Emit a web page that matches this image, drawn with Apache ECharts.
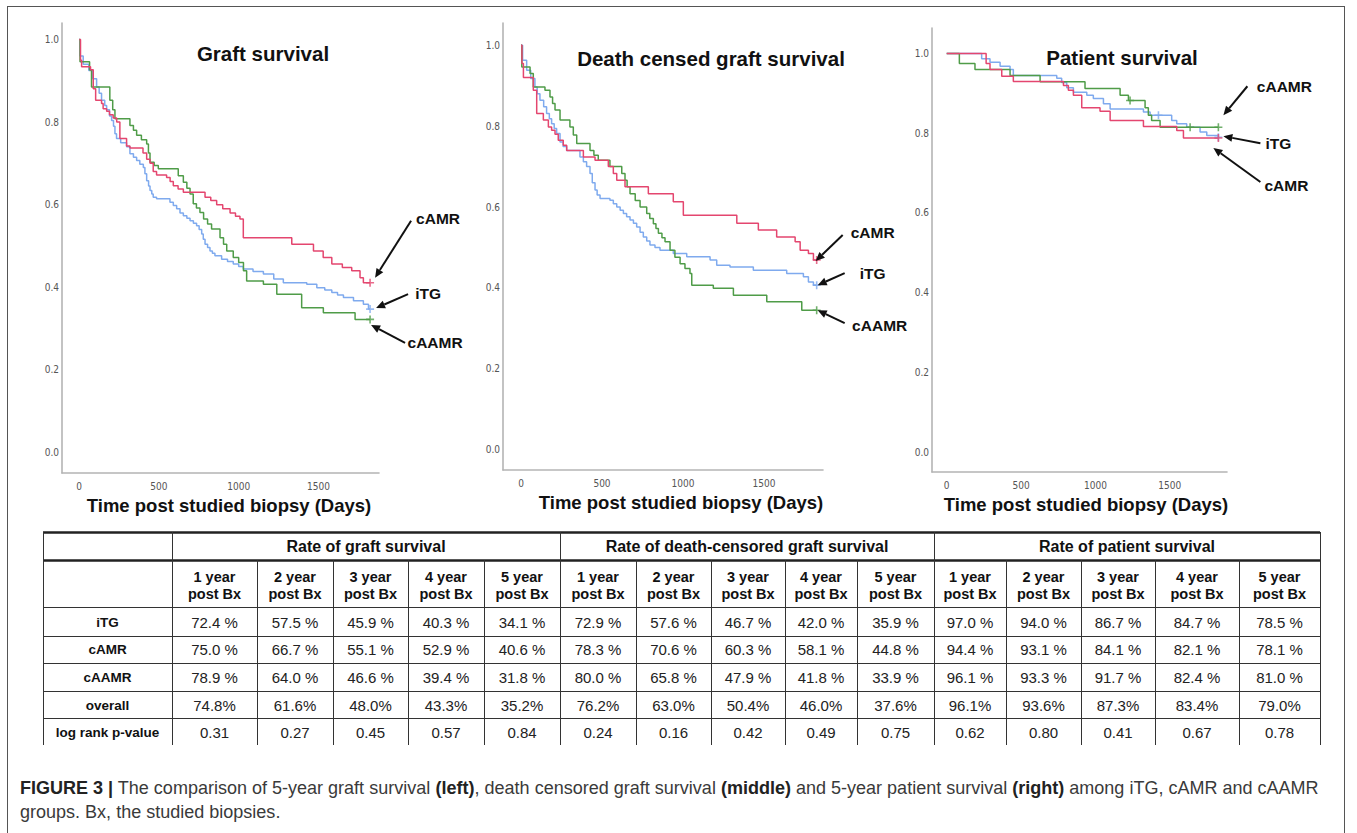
<!DOCTYPE html>
<html>
<head>
<meta charset="utf-8">
<script src="https://cdn.jsdelivr.net/npm/echarts@6.0.0/dist/echarts.min.js"></script>
<style>
html,body{margin:0;padding:0;background:#ffffff;}
#c{width:1357px;height:833px;}
</style>
</head>
<body>
<div id="c"></div>
<script>
// ---------------- DATA ----------------
// Kaplan–Meier steps: [day, survival]
const graftITG = [[0,1],[5,0.96],[25,0.94],[60,0.925],[85,0.905],[109,0.885],[125,0.87],[140,0.853],[160,0.84],[172,0.83],[190,0.815],[203,0.804],[215,0.79],[224,0.772],[234,0.76],[260,0.75],[297,0.74],[318,0.723],[340,0.715],[360,0.707],[380,0.698],[402,0.69],[412,0.675],[423,0.658],[435,0.645],[444,0.634],[455,0.626],[464,0.618],[485,0.614],[569,0.606],[590,0.598],[611,0.59],[632,0.58],[653,0.573],[675,0.567],[695,0.561],[716,0.555],[736,0.549],[752,0.54],[768,0.529],[778,0.516],[789,0.504],[805,0.496],[820,0.488],[835,0.482],[851,0.476],[893,0.468],[930,0.462],[966,0.456],[1000,0.45],[1029,0.444],[1090,0.438],[1155,0.432],[1220,0.42],[1280,0.411],[1427,0.407],[1490,0.399],[1540,0.393],[1584,0.387],[1620,0.381],[1657,0.375],[1720,0.367],[1782,0.359],[1814,0.347],[1824,0.347]];
const graftCAMR = [[0,1],[8,0.95],[15,0.934],[71,0.927],[88,0.881],[103,0.853],[140,0.845],[150,0.832],[172,0.826],[190,0.818],[213,0.81],[235,0.8],[255,0.76],[297,0.742],[318,0.737],[400,0.725],[423,0.71],[444,0.7],[464,0.68],[485,0.672],[548,0.666],[570,0.656],[590,0.646],[620,0.638],[653,0.63],[789,0.618],[825,0.61],[862,0.6],[900,0.59],[946,0.58],[980,0.572],[1008,0.565],[1029,0.52],[1333,0.504],[1469,0.488],[1530,0.472],[1584,0.456],[1650,0.448],[1709,0.44],[1761,0.423],[1782,0.411],[1824,0.411]];
const graftCAAMR = [[0,1],[5,0.946],[65,0.926],[77,0.885],[192,0.853],[210,0.83],[224,0.808],[318,0.792],[340,0.78],[360,0.768],[390,0.757],[423,0.747],[434,0.725],[444,0.703],[470,0.695],[496,0.687],[621,0.67],[653,0.654],[675,0.64],[695,0.626],[715,0.602],[735,0.592],[757,0.581],[780,0.565],[805,0.553],[830,0.541],[883,0.52],[905,0.504],[925,0.488],[966,0.472],[1000,0.46],[1030,0.44],[1050,0.415],[1155,0.407],[1239,0.383],[1395,0.35],[1531,0.338],[1730,0.322],[1824,0.322]];

const dcITG = [[0,1],[10,0.963],[35,0.938],[60,0.918],[86,0.897],[100,0.88],[117,0.864],[140,0.848],[158,0.831],[175,0.818],[189,0.806],[205,0.794],[220,0.782],[241,0.761],[260,0.75],[282,0.74],[364,0.724],[385,0.712],[405,0.7],[426,0.683],[440,0.66],[457,0.642],[470,0.63],[488,0.621],[549,0.617],[570,0.608],[591,0.6],[612,0.592],[632,0.584],[652,0.576],[673,0.568],[694,0.56],[714,0.551],[735,0.538],[755,0.526],[776,0.516],[796,0.506],[827,0.5],[858,0.493],[940,0.485],[1023,0.477],[1167,0.469],[1208,0.456],[1290,0.452],[1434,0.444],[1640,0.436],[1743,0.428],[1774,0.415],[1805,0.407],[1825,0.407]];
const dcCAMR = [[0,1],[6,0.955],[15,0.92],[76,0.889],[97,0.831],[138,0.815],[169,0.798],[189,0.79],[210,0.78],[230,0.765],[261,0.753],[282,0.74],[385,0.724],[457,0.716],[539,0.7],[570,0.683],[591,0.666],[642,0.65],[786,0.633],[940,0.613],[1002,0.58],[1332,0.56],[1465,0.543],[1578,0.526],[1692,0.514],[1723,0.493],[1774,0.485],[1805,0.469],[1825,0.469]];
const dcCAAMR = [[0,1],[5,0.946],[56,0.93],[76,0.897],[148,0.889],[179,0.872],[195,0.856],[210,0.84],[241,0.815],[302,0.798],[323,0.778],[344,0.757],[426,0.74],[450,0.728],[477,0.716],[549,0.7],[622,0.683],[642,0.666],[655,0.65],[673,0.633],[705,0.616],[735,0.6],[776,0.584],[795,0.572],[817,0.559],[833,0.547],[848,0.535],[870,0.524],[889,0.514],[920,0.493],[950,0.476],[982,0.46],[1012,0.448],[1043,0.436],[1054,0.407],[1187,0.399],[1311,0.382],[1517,0.366],[1733,0.345],[1825,0.345]];

const psITG = [[0,1],[235,0.987],[291,0.978],[359,0.968],[426,0.96],[448,0.945],[740,0.938],[773,0.927],[807,0.914],[852,0.903],[942,0.895],[986,0.887],[1054,0.874],[1099,0.861],[1323,0.853],[1368,0.845],[1513,0.832],[1547,0.824],[1614,0.815],[1704,0.803],[1749,0.794],[1827,0.79]];
const psCAMR = [[0,1],[265,0.975],[291,0.96],[370,0.943],[448,0.93],[785,0.92],[818,0.908],[852,0.895],[908,0.864],[1031,0.855],[1099,0.832],[1323,0.817],[1547,0.807],[1592,0.788],[1827,0.788]];
const psCAAMR = [[0,1],[85,0.975],[190,0.96],[426,0.945],[628,0.929],[930,0.912],[1166,0.895],[1222,0.882],[1334,0.864],[1356,0.845],[1378,0.832],[1435,0.815],[1827,0.815]];

// censored observations
const graftCensITG = [[1824,0.347]];
const graftCensCAMR = [[1824,0.411]];
const graftCensCAAMR = [[1824,0.322]];
const dcCensITG = [[1825,0.407]];
const dcCensCAMR = [[1825,0.469]];
const dcCensCAAMR = [[1825,0.345]];
const psCensITG = [[1424,0.845],[1827,0.79]];
const psCensCAMR = [[1827,0.788]];
const psCensCAAMR = [[1233,0.882],[1637,0.815],[1827,0.815]];

const panelTitles = ['Graft survival','Death censed graft survival','Patient survival'];
const xAxisTitle = 'Time post studied biopsy (Days)';
const xTickValues = [0,500,1000,1500];
const yTickValues = [0,0.2,0.4,0.6,0.8,1.0];
const groups = ['iTG','cAMR','cAAMR'];

// table
const tableGroupTitles = ['Rate of graft survival','Rate of death-censored graft survival','Rate of patient survival'];
const tableYears = ['1 year','2 year','3 year','4 year','5 year'];
const tableSubLine = 'post Bx';
const tableRowLabels = ['iTG','cAMR','cAAMR','overall','log rank p-value'];
const rowITG = ['72.4 %','57.5 %','45.9 %','40.3 %','34.1 %','72.9 %','57.6 %','46.7 %','42.0 %','35.9 %','97.0 %','94.0 %','86.7 %','84.7 %','78.5 %'];
const rowCAMR = ['75.0 %','66.7 %','55.1 %','52.9 %','40.6 %','78.3 %','70.6 %','60.3 %','58.1 %','44.8 %','94.4 %','93.1 %','84.1 %','82.1 %','78.1 %'];
const rowCAAMR = ['78.9 %','64.0 %','46.6 %','39.4 %','31.8 %','80.0 %','65.8 %','47.9 %','41.8 %','33.9 %','96.1 %','93.3 %','91.7 %','82.4 %','81.0 %'];
const rowOverall = ['74.8%','61.6%','48.0%','43.3%','35.2%','76.2%','63.0%','50.4%','46.0%','37.6%','96.1%','93.6%','87.3%','83.4%','79.0%'];
const rowLogRank = ['0.31','0.27','0.45','0.57','0.84','0.24','0.16','0.42','0.49','0.75','0.62','0.80','0.41','0.67','0.78'];

// caption
const captionLine1 = [['b','FIGURE 3 |'],['n',' The comparison of 5-year graft survival '],['b','(left)'],['n',', death censored graft survival '],['b','(middle)'],['n',' and 5-year patient survival '],['b','(right)'],['n',' among iTG, cAMR and cAAMR']];
const captionLine2 = 'groups. Bx, the studied biopsies.';

// ---------------- STYLE / LAYOUT ----------------
const COLORS = {iTG:'#7faaee', cAMR:'#e4466f', cAAMR:'#4f9c48'};
const SANS = "'Liberation Sans', Arial, Helvetica, sans-serif";
const NARROW = "'Liberation Sans Narrow', 'Arial Narrow', 'DejaVu Sans Condensed', sans-serif";
const grids = [
  {left:62, top:23, width:317, height:450},
  {left:503, top:23, width:320, height:447},
  {left:932, top:28, width:295, height:444}
];
const xRanges = [[-108,1880],[-111,1864],[-99,1885]];
const yRanges = [[-0.05,1.04],[-0.05,1.055],[-0.05,1.064]];
const xNameLayout = [{gap:20, pad:17},{gap:22, pad:36},{gap:21, pad:13}];
const titlePos = [[263,53],[711,58],[1122,57]];

const panels = [
  {iTG:graftITG, cAMR:graftCAMR, cAAMR:graftCAAMR},
  {iTG:dcITG, cAMR:dcCAMR, cAAMR:dcCAAMR},
  {iTG:psITG, cAMR:psCAMR, cAAMR:psCAAMR}
];
const censors = [
  {iTG:graftCensITG, cAMR:graftCensCAMR, cAAMR:graftCensCAAMR},
  {iTG:dcCensITG, cAMR:dcCensCAMR, cAAMR:dcCensCAAMR},
  {iTG:psCensITG, cAMR:psCensCAMR, cAAMR:psCensCAAMR}
];
const PLUS = 'path://M4,0H6V4H10V6H6V10H4V6H0V4H4Z';

const xAxes = [], yAxes = [], series = [];
grids.forEach((g, i) => {
  xAxes.push({
    type:'value', gridIndex:i, min:xRanges[i][0], max:xRanges[i][1],
    axisLine:{show:true, onZero:false, lineStyle:{color:'#b4b4b4', width:1.6}},
    axisTick:{show:false}, splitLine:{show:false},
    axisLabel:{customValues:xTickValues, color:'#555', fontSize:10, fontFamily:NARROW, margin:8,
      formatter:v => String(Math.round(v))},
    name:xAxisTitle, nameLocation:'middle', nameGap:xNameLayout[i].gap,
    nameTextStyle:{fontSize:18.5, fontWeight:'bold', color:'#111', fontFamily:SANS, padding:[0,0,0,xNameLayout[i].pad]}
  });
  yAxes.push({
    type:'value', gridIndex:i, min:yRanges[i][0], max:yRanges[i][1],
    axisLine:{show:true, onZero:false, lineStyle:{color:'#b4b4b4', width:1.6}},
    axisTick:{show:false}, splitLine:{show:false},
    axisLabel:{customValues:yTickValues, color:'#555', fontSize:10, fontFamily:NARROW, margin:3,
      formatter:v => Number(v).toFixed(1)}
  });
  ['iTG','cAAMR','cAMR'].forEach(grp => {
    series.push({
      type:'line', name:grp, xAxisIndex:i, yAxisIndex:i, data:panels[i][grp], step:'end',
      showSymbol:false, symbol:'none', silent:true, z:2,
      lineStyle:{color:COLORS[grp], width:1.5}, itemStyle:{color:COLORS[grp]}
    });
  });
  ['iTG','cAAMR','cAMR'].forEach(grp => {
    series.push({
      type:'scatter', name:grp + ' censored', xAxisIndex:i, yAxisIndex:i, data:censors[i][grp],
      symbol:PLUS, symbolSize:8, silent:true, z:3, itemStyle:{color:COLORS[grp]}
    });
  });
});

const chart = echarts.init(document.getElementById('c'), null, {renderer:'svg'});
chart.setOption({
  animation:false,
  backgroundColor:'#ffffff',
  grid:grids,
  xAxis:xAxes,
  yAxis:yAxes,
  series:series
});

// ---------------- GRAPHIC: titles, arrows, table, caption ----------------
const G = [];
function txt(x, y, text, size, weight, color, family, align) {
  G.push({type:'text', x:x, y:y, silent:true, z:10, style:{text:text, fontSize:size, fontWeight:weight||'normal',
    fill:color||'#111', fontFamily:family||SANS, align:align||'center', verticalAlign:'middle'}});
}
function seg(x1, y1, x2, y2, w, color) {
  G.push({type:'line', silent:true, z:9, shape:{x1:x1, y1:y1, x2:x2, y2:y2}, style:{stroke:color||'#333', lineWidth:w||1}});
}

// frame
seg(7.5, 6, 7.5, 833, 1, '#555');
seg(7, 6.5, 1345, 6.5, 1, '#555');
seg(1344.5, 6, 1344.5, 833, 1, '#555');

// panel titles
panelTitles.forEach((t, i) => txt(titlePos[i][0], titlePos[i][1], t, 20.5, 'bold', '#111'));

// arrows and group labels, anchored to the curve ends
const notes = [
  {g:0, pt:graftCensCAMR[0], tip:[5,-5], tail:[41,-62], label:[68,-64], text:'cAMR'},
  {g:0, pt:graftCensITG[0], tip:[6,-1], tail:[38,-15], label:[58,-16], text:'iTG'},
  {g:0, pt:graftCensCAAMR[0], tip:[1,5.5], tail:[35,23.5], label:[65,23.5], text:'cAAMR'},
  {g:1, pt:dcCensCAMR[0], tip:[-1,1], tail:[26,-25], label:[56,-28], text:'cAMR'},
  {g:1, pt:dcCensITG[0], tip:[1,0], tail:[28,-12], label:[56,-12], text:'iTG'},
  {g:1, pt:dcCensCAAMR[0], tip:[1,0], tail:[28,13], label:[63,15], text:'cAAMR'},
  {g:2, pt:psCensCAAMR[2], tip:[5,-12], tail:[29,-41], label:[66,-41], text:'cAAMR'},
  {g:2, pt:psCensITG[1], tip:[5,-1], tail:[42,6], label:[60,6], text:'iTG'},
  {g:2, pt:psCensCAMR[0], tip:[-5,10], tail:[42,44], label:[68,47], text:'cAMR'}
];
notes.forEach(n => {
  const p = chart.convertToPixel({gridIndex:n.g}, n.pt);
  const tx = p[0] + n.tip[0], ty = p[1] + n.tip[1];
  const sx = p[0] + n.tail[0], sy = p[1] + n.tail[1];
  const dx = tx - sx, dy = ty - sy, len = Math.sqrt(dx*dx + dy*dy);
  const ux = dx/len, uy = dy/len, L = 9, W = 4;
  const bx = tx - ux*L, by = ty - uy*L;
  seg(sx, sy, bx, by, 2, '#111');
  G.push({type:'polygon', silent:true, z:9, shape:{points:[[tx,ty],[bx - uy*W, by + ux*W],[bx + uy*W, by - ux*W]]}, style:{fill:'#111'}});
  txt(p[0] + n.label[0], p[1] + n.label[1], n.text, 15.5, 'bold', '#111');
});

// table
const colX = [43,172,257,333,408,484,560,636,711,785,857,934,1006,1081,1155,1239,1320];
const rowY = [532,560,607,636,663,691,718,745];
const groupEdges = [1,6,11,16];
seg(colX[0], rowY[0]+0.5, colX[16], rowY[0]+0.5, 2.4, '#222');
seg(colX[0], rowY[1]+0.5, colX[16], rowY[1]+0.5, 2.4, '#222');
for (let r = 2; r <= 6; r++) seg(colX[0], rowY[r]+0.5, colX[16], rowY[r]+0.5, 1, '#333');
colX.forEach((x, c) => {
  const full = (c === 0 || groupEdges.indexOf(c) >= 0);
  seg(x+0.5, full ? rowY[0] : rowY[1], x+0.5, rowY[7], 1, '#333');
});
tableGroupTitles.forEach((t, gi) => {
  const x0 = colX[groupEdges[gi]], x1 = colX[groupEdges[gi+1]];
  txt((x0+x1)/2, 546.5, t, 16, 'bold', '#111');
});
for (let c = 0; c < 15; c++) {
  const cx = (colX[c+1] + colX[c+2]) / 2;
  txt(cx, 576.5, tableYears[c % 5], 14.5, 'bold', '#111');
  txt(cx, 594, tableSubLine, 14.5, 'bold', '#111');
}
const tableRows = [rowITG, rowCAMR, rowCAAMR, rowOverall, rowLogRank];
const rowTextY = [622, 649.5, 677.5, 705, 732];
tableRows.forEach((vals, r) => {
  txt((colX[0]+colX[1])/2, rowTextY[r], tableRowLabels[r], 13.5, 'bold', '#111');
  vals.forEach((v, c) => txt((colX[c+1]+colX[c+2])/2, rowTextY[r], v, 15, 'normal', '#222'));
});

// caption (font size fitted so the first line spans the figure width)
const meas = document.createElement('canvas').getContext('2d');
let wBase = 0;
captionLine1.forEach(s => { meas.font = (s[0]==='b' ? 'bold ' : '') + '16px ' + SANS; wBase += meas.measureText(s[1]).width; });
let capSize = 16 * 1300 / wBase;
capSize = Math.max(14, Math.min(18.2, capSize));
const capText = captionLine1.map(s => s[0]==='b' ? '{b|' + s[1] + '}' : '{n|' + s[1] + '}').join('');
G.push({type:'text', x:20, y:788, silent:true, z:10, style:{text:capText, fontSize:capSize, fontFamily:SANS, fill:'#333',
  align:'left', verticalAlign:'middle',
  rich:{b:{fontWeight:'bold', fontSize:capSize, fontFamily:SANS, fill:'#222'}, n:{fontWeight:'normal', fontSize:capSize, fontFamily:SANS, fill:'#3a3a3a'}}}});
txt(20, 812, captionLine2, capSize, 'normal', '#3a3a3a', SANS, 'left');

chart.setOption({graphic:G});
</script>
</body>
</html>
